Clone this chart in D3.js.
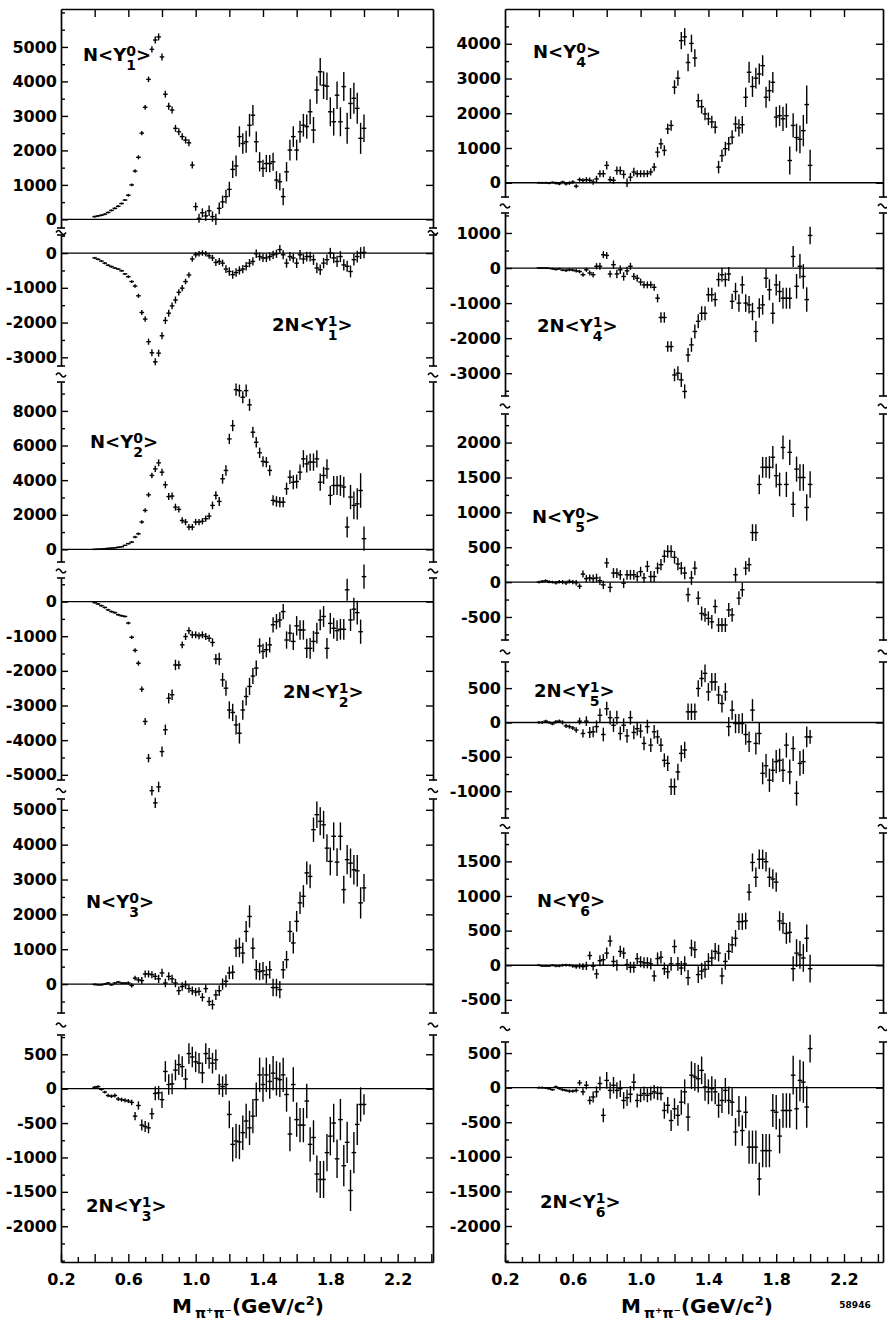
<!DOCTYPE html>
<html>
<head>
<meta charset="utf-8">
<script src="https://cdn.jsdelivr.net/npm/d3@7"></script>
<style>
  body { margin: 0; background: #fff; }
  svg text { font-family: "DejaVu Sans", "Liberation Sans", sans-serif; font-weight: bold; fill: #000; }
</style>
</head>
<body>
<div id="chart"></div>
<script>
// pi+ pi- mass bins (GeV/c^2)
const mass = [
  0.40, 0.42, 0.44, 0.46, 0.48, 0.50, 0.52, 0.54, 0.56, 0.58,
  0.60, 0.62, 0.64, 0.66, 0.68, 0.70, 0.72, 0.74, 0.76, 0.78,
  0.80, 0.82, 0.84, 0.86, 0.88, 0.90, 0.92, 0.94, 0.96, 0.98,
  1.00, 1.02, 1.04, 1.06, 1.08, 1.10, 1.12, 1.14, 1.16, 1.18,
  1.20, 1.22, 1.24, 1.26, 1.28, 1.30, 1.32, 1.34, 1.36, 1.38,
  1.40, 1.42, 1.44, 1.46, 1.48, 1.50, 1.52, 1.54, 1.56, 1.58,
  1.60, 1.62, 1.64, 1.66, 1.68, 1.70, 1.72, 1.74, 1.76, 1.78,
  1.80, 1.82, 1.84, 1.86, 1.88, 1.90, 1.92, 1.94, 1.96, 1.98,
  2.00
];

// N<Y1^0>
const y10 = [
  80, 100, 120, 150, 200, 260, 320, 380, 460, 560,
  700, 1000, 1400, 1800, 2500, 3250, 4060, 4930, 5200, 5290,
  4710, 3630, 3280, 3170, 2640, 2540, 2400, 2300, 2220, 1575,
  370, 30, 190, 100, 250, 80, 0, 320, 510, 660,
  870, 1450, 1550, 2400, 2200, 2250, 2730, 3020, 2250, 1670,
  1480, 1620, 1620, 1670, 1140, 1090, 660, 1380, 2010, 2400,
  2010, 2540, 2730, 2690, 3120, 2590, 3750, 4280, 3890, 3860,
  3120, 2830, 3600, 2830, 3850, 2640, 3360, 3510, 3220, 2350,
  2640
];
const y10Err = [
  30, 30, 30, 30, 30, 30, 30, 30, 30, 30,
  40, 40, 50, 60, 60, 70, 80, 90, 100, 100,
  100, 100, 100, 100, 100, 100, 100, 100, 100, 100,
  120, 130, 130, 150, 150, 150, 160, 170, 180, 200,
  220, 250, 300, 300, 300, 320, 330, 300, 300, 280,
  250, 250, 250, 260, 260, 250, 250, 280, 300, 300,
  300, 320, 330, 350, 360, 380, 400, 400, 400, 400,
  420, 400, 400, 420, 420, 450, 450, 450, 450, 450,
  400
];

// 2N<Y1^1>
const y11 = [
  -140, -180, -230, -290, -350, -390, -430, -460, -510, -600,
  -680, -820, -950, -1230, -1710, -1900, -2550, -2870, -3130, -2880,
  -2380, -1940, -1730, -1520, -1350, -1130, -1010, -820, -630, -170,
  -50, -20, 0, -20, -80, -140, -270, -240, -290, -460,
  -530, -620, -560, -500, -460, -380, -290, -240, -20, -100,
  -140, -140, -100, -50, -20, 100, -50, -290, -100, -140,
  -290, -50, -170, -100, -100, -190, -430, -480, -290, -190,
  0, -140, -240, -100, -340, -380, -530, -190, -100, 0,
  20
];
const y11Err = [
  30, 30, 30, 30, 30, 30, 30, 30, 30, 30,
  40, 40, 50, 60, 70, 80, 90, 100, 100, 100,
  100, 100, 100, 100, 100, 90, 90, 80, 80, 80,
  80, 80, 80, 80, 80, 90, 100, 100, 100, 110,
  120, 120, 120, 120, 120, 120, 120, 120, 120, 120,
  120, 120, 120, 120, 120, 130, 130, 130, 130, 130,
  140, 140, 140, 140, 140, 150, 150, 150, 150, 150,
  150, 150, 160, 160, 160, 160, 170, 170, 170, 170,
  170
];

// N<Y2^0>
const y20 = [
  0, 10, 20, 40, 60, 70, 90, 120, 150, 230,
  330, 420, 710, 900, 1580, 2250, 3150, 4270, 4650, 5000,
  4460, 3730, 3050, 3080, 2440, 2310, 1670, 1580, 1290, 1290,
  1580, 1580, 1620, 1770, 1920, 2540, 3120, 2770, 4080, 4560,
  6380, 7150, 9230, 9170, 8790, 9170, 8350, 6770, 6190, 5580,
  5080, 5040, 4560, 2830, 2770, 2730, 2730, 3500, 4170, 3880,
  3920, 4460, 5230, 4940, 5040, 5040, 5230, 3880, 4270, 4650,
  3120, 3690, 3690, 3690, 3600, 1290, 3020, 2540, 2630, 3400,
  620
];
const y20Err = [
  40, 40, 40, 40, 40, 40, 40, 40, 40, 40,
  50, 60, 70, 80, 100, 120, 140, 160, 180, 200,
  200, 200, 200, 200, 200, 180, 180, 180, 180, 180,
  180, 180, 180, 180, 200, 220, 240, 260, 280, 300,
  300, 320, 350, 350, 350, 350, 350, 320, 300, 300,
  300, 300, 300, 300, 300, 300, 300, 350, 400, 400,
  400, 450, 500, 500, 500, 500, 500, 500, 500, 550,
  550, 550, 550, 600, 600, 600, 700, 800, 900, 1000,
  700
];

// 2N<Y2^1>
const y21 = [
  -30, -70, -120, -170, -240, -290, -320, -380, -410, -430,
  -620, -1030, -1410, -1780, -2530, -3460, -4520, -5460, -5810, -5350,
  -4330, -3700, -2790, -2690, -1830, -1830, -1250, -1010, -840, -960,
  -960, -990, -960, -1010, -1060, -1180, -1660, -1660, -2260, -2500,
  -3130, -3200, -3560, -3800, -3130, -2740, -2450, -2150, -1920, -1280,
  -1440, -1390, -1250, -670, -580, -530, -290, -1110, -910, -1150,
  -700, -820, -820, -1350, -1350, -1150, -910, -530, -430, -1350,
  -630, -770, -840, -800, -800, 340, -530, -220, -320, -870,
  720
];
const y21Err = [
  30, 30, 30, 30, 30, 30, 30, 30, 30, 30,
  40, 50, 60, 70, 80, 100, 120, 140, 150, 150,
  150, 150, 150, 150, 150, 120, 100, 100, 100, 100,
  100, 100, 100, 100, 100, 120, 150, 180, 200, 220,
  250, 250, 280, 300, 280, 260, 250, 230, 220, 220,
  220, 220, 220, 220, 220, 220, 220, 250, 250, 250,
  280, 280, 280, 280, 300, 300, 300, 300, 300, 300,
  300, 300, 300, 300, 300, 320, 320, 330, 340, 350,
  350
];

// N<Y3^0>
const y30 = [
  -10, -20, -20, 0, 30, -20, 30, 60, 30, 30,
  30, -40, 170, 120, 100, 290, 290, 270, 220, 150,
  320, 30, 220, 150, 30, -190, -70, -20, -130, -190,
  -230, -210, -380, -130, -500, -590, -310, -190, 0, 80,
  320, 340, 1030, 1050, 890, 1510, 1940, 1030, 410, 360,
  380, 270, 410, -100, -100, -160, 410, 700, 1510, 1180,
  1800, 2330, 2520, 3190, 3090, 4430, 4860, 4670, 4570, 3900,
  3520, 4240, 3500, 4240, 2710, 3570, 3470, 3280, 3250, 2330,
  2760
];
const y30Err = [
  30, 30, 30, 30, 30, 30, 30, 30, 30, 30,
  50, 60, 70, 80, 100, 100, 100, 100, 100, 120,
  120, 120, 120, 120, 120, 120, 120, 120, 120, 120,
  120, 120, 120, 120, 130, 140, 150, 150, 160, 170,
  180, 200, 250, 280, 300, 300, 320, 300, 280, 250,
  250, 250, 250, 250, 250, 250, 250, 250, 300, 300,
  300, 320, 320, 330, 340, 350, 380, 400, 400, 400,
  400, 400, 400, 400, 400, 420, 420, 420, 450, 450,
  400
];

// 2N<Y3^1>
const y31 = [
  20, 30, -10, -50, -100, -110, -100, -150, -160, -170,
  -180, -200, -400, -245, -530, -550, -570, -365, -70, -60,
  -160, 250, 60, 70, 270, 350, 320, 140, 510, 460,
  390, 370, 230, 510, 440, 370, 420, 60, 30, 60,
  -375, -810, -760, -775, -640, -470, -570, -400, -160, 200,
  60, 200, 105, 225, 150, 130, 200, -85, -660, 60,
  -450, -530, -530, -180, -810, -710, -1240, -1320, -1320, -930,
  -690, -500, -1020, -450, -1120, -780, -1480, -930, -520, -230,
  -230
];
const y31Err = [
  20, 20, 20, 20, 25, 25, 30, 30, 30, 30,
  30, 40, 60, 60, 80, 80, 80, 80, 100, 100,
  120, 150, 150, 150, 150, 150, 150, 150, 150, 150,
  150, 150, 150, 150, 150, 150, 150, 150, 150, 150,
  200, 250, 250, 250, 250, 250, 250, 250, 250, 250,
  250, 250, 250, 250, 250, 250, 250, 250, 250, 250,
  250, 250, 250, 250, 250, 250, 270, 270, 270, 270,
  280, 280, 280, 300, 300, 300, 300, 300, 300, 250,
  150
];

// N<Y4^0>
const y40 = [
  0, 0, 0, -10, 10, -10, -30, 20, -30, -10,
  20, -100, 90, 70, 90, 70, 20, 110, 260, 260,
  500, 90, 70, 350, 350, 240, 0, 160, 310, 260,
  260, 260, 260, 310, 450, 880, 1120, 930, 1550, 1650,
  2750, 3010, 4090, 4200, 3460, 4010, 3590, 2360, 2190, 1980,
  1840, 1750, 1600, 450, 780, 980, 1120, 1310, 1690, 1580,
  1670, 2460, 3180, 2770, 3010, 3130, 3370, 2460, 2650, 2890,
  1890, 1930, 1840, 1930, 640, 1650, 1300, 1250, 1500, 2250,
  500
];
const y40Err = [
  30, 30, 30, 30, 30, 40, 40, 40, 50, 50,
  50, 60, 60, 60, 70, 80, 80, 90, 100, 100,
  120, 100, 100, 120, 120, 120, 120, 120, 120, 100,
  100, 100, 100, 100, 120, 150, 150, 150, 150, 150,
  200, 220, 250, 250, 250, 250, 250, 200, 200, 180,
  180, 180, 180, 180, 180, 200, 200, 200, 220, 250,
  250, 280, 300, 300, 300, 300, 300, 300, 300, 300,
  300, 300, 350, 350, 400, 350, 400, 400, 450, 550,
  450
];

// 2N<Y4^1>
const y41 = [
  0, 0, 0, -10, -20, -40, -20, -60, -70, -50,
  -60, -80, -100, -190, -50, -140, -190, 50, 50, 380,
  360, -170, 95, -170, -50, -240, -80, 50, -240, -290,
  -400, -480, -480, -480, -550, -860, -1410, -1410, -2240, -2240,
  -3050, -3000, -3190, -3520, -2480, -2190, -1810, -1520, -1290, -1290,
  -760, -760, -900, -330, -190, -330, -170, -950, -670, -1000,
  -480, -1000, -1050, -1240, -1810, -1140, -1050, -290, -620, -1290,
  -480, -670, -860, -860, -860, 330, -520, 50, -240, -900,
  930
];
const y41Err = [
  20, 20, 20, 20, 30, 30, 30, 30, 40, 40,
  40, 50, 50, 60, 60, 70, 80, 90, 100, 100,
  100, 100, 120, 120, 120, 120, 120, 100, 100, 100,
  100, 100, 100, 100, 100, 120, 150, 150, 150, 150,
  180, 200, 200, 200, 200, 200, 200, 200, 200, 200,
  200, 200, 200, 200, 200, 200, 200, 220, 250, 250,
  250, 250, 250, 250, 300, 280, 280, 280, 300, 300,
  300, 300, 300, 300, 300, 300, 350, 350, 350, 350,
  250
];

// N<Y5^0>
const y50 = [
  0, 10, 20, 5, 0, -10, 5, 0, -10, 10,
  0, -10, -60, 115, 50, 60, 50, 60, 20, -40,
  275, -75, 130, 130, 105, -15, 105, 105, 105, 80,
  150, 60, 225, 80, 80, 200, 250, 370, 440, 440,
  355, 260, 200, 130, -180, 60, 200, -230, -450, -470,
  -520, -570, -350, -615, -615, -615, -400, -470, 105, -230,
  -110, 200, 250, 710, 710, 1400, 1645, 1645, 1645, 1790,
  1525, 1400, 1930, 1400, 1860, 1115, 1620, 1500, 1500, 1070,
  1400
];
const y50Err = [
  20, 20, 20, 20, 20, 25, 25, 30, 30, 30,
  30, 40, 40, 50, 50, 50, 60, 60, 60, 60,
  70, 70, 70, 70, 70, 70, 70, 70, 70, 70,
  70, 70, 80, 80, 80, 80, 80, 90, 90, 90,
  90, 90, 90, 90, 100, 100, 100, 100, 100, 100,
  100, 100, 100, 100, 100, 100, 100, 100, 100, 100,
  100, 100, 100, 120, 120, 140, 150, 150, 160, 160,
  170, 170, 170, 180, 180, 180, 180, 190, 190, 190,
  190
];

// 2N<Y5^1>
const y51 = [
  0, 0, 20, 0, -20, 10, 20, 0, -50, -60,
  -80, -110, 20, -160, 20, -145, -135, -60, 105, -175,
  200, 70, -40, 70, -160, -40, -195, 70, -145, -90,
  -125, -305, -60, -330, -135, -210, -330, -550, -595, -935,
  -935, -720, -450, -400, 155, 155, 155, 495, 640, 715,
  445, 590, 590, 400, 275, 445, -60, 180, -15, -15,
  -15, -175, -280, 180, -305, -160, -740, -630, -840, -695,
  -570, -550, -695, -330, -720, -380, -1030, -595, -570, -210,
  -210
];
const y51Err = [
  20, 20, 20, 20, 20, 25, 25, 30, 30, 30,
  30, 40, 50, 60, 70, 80, 80, 90, 100, 100,
  100, 100, 100, 100, 100, 100, 100, 100, 100, 100,
  100, 100, 100, 100, 100, 100, 100, 100, 110, 120,
  120, 120, 120, 120, 120, 120, 120, 120, 120, 130,
  130, 130, 130, 130, 130, 130, 140, 140, 140, 140,
  150, 150, 150, 160, 160, 160, 160, 170, 170, 170,
  170, 170, 170, 180, 180, 180, 180, 180, 180, 150,
  100
];

// N<Y6^0>
const y60 = [
  0, -10, -10, -10, 0, -10, -10, 0, 0, 0,
  -10, -20, -10, -20, -10, 140, -15, -125, 65, 80,
  175, 350, 55, 0, 200, 175, 10, -30, -30, 95,
  50, 35, 35, 20, -155, 95, 115, -50, -95, 20,
  270, 20, -40, 20, -180, 250, 225, -135, -85, -60,
  55, 105, 200, 175, -155, 55, 200, 295, 390, 630,
  630, 640, 1055, 1485, 1270, 1530, 1530, 1495, 1270, 1245,
  1200, 640, 605, 460, 475, -50, 175, 150, 105, 390,
  -50
];
const y60Err = [
  15, 15, 15, 15, 15, 20, 20, 20, 20, 20,
  25, 30, 40, 50, 60, 60, 60, 70, 80, 80,
  80, 80, 80, 80, 80, 80, 80, 80, 80, 80,
  80, 80, 80, 80, 80, 90, 90, 90, 100, 100,
  100, 100, 100, 110, 110, 120, 120, 120, 120, 120,
  120, 120, 120, 120, 120, 120, 120, 120, 120, 120,
  120, 120, 120, 130, 140, 140, 140, 140, 140, 140,
  140, 140, 150, 150, 150, 180, 200, 200, 200, 200,
  200
];

// 2N<Y6^1>
const y61 = [
  0, 0, -5, -15, -30, 10, -10, -30, -40, -50,
  -50, -40, 70, -60, 35, -185, -135, -60, 60, -400,
  105, -40, 35, -40, -15, -185, -145, -95, 80, -185,
  -110, -85, -110, -85, -60, -80, -85, -330, -255, -475,
  -305, -400, -210, -60, -425, 180, 155, 130, 250, 10,
  -60, -15, -60, -255, -185, -40, -185, -210, -640, -340,
  -620, -355, -860, -860, -860, -1320, -910, -910, -910, -330,
  -355, -700, -330, -330, -330, 180, -305, 105, 80, -280,
  565
];
const y61Err = [
  15, 15, 15, 15, 15, 20, 20, 20, 20, 25,
  25, 30, 40, 50, 60, 60, 80, 80, 100, 100,
  120, 120, 120, 120, 120, 120, 120, 120, 120, 100,
  100, 100, 100, 100, 100, 100, 100, 120, 120, 150,
  150, 150, 180, 180, 200, 200, 200, 200, 200, 200,
  180, 180, 180, 180, 180, 180, 200, 200, 200, 220,
  220, 230, 240, 240, 240, 240, 240, 240, 240, 240,
  250, 250, 250, 250, 250, 280, 300, 300, 300, 300,
  200
];

// tick labels
const ticksY10 = [0, 1000, 2000, 3000, 4000, 5000];
const ticksY11 = [0, -1000, -2000, -3000];
const ticksY20 = [0, 2000, 4000, 6000, 8000];
const ticksY21 = [0, -1000, -2000, -3000, -4000, -5000];
const ticksY30 = [0, 1000, 2000, 3000, 4000, 5000];
const ticksY31 = [500, 0, -500, -1000, -1500, -2000];
const ticksY40 = [0, 1000, 2000, 3000, 4000];
const ticksY41 = [1000, 0, -1000, -2000, -3000];
const ticksY50 = [-500, 0, 500, 1000, 1500, 2000];
const ticksY51 = [500, 0, -500, -1000];
const ticksY60 = [-500, 0, 500, 1000, 1500];
const ticksY61 = [500, 0, -500, -1000, -1500, -2000];
const xTickLabels = [0.2, 0.6, 1.0, 1.4, 1.8, 2.2];
const xTicks = [0.2, 0.4, 0.6, 0.8, 1.0, 1.2, 1.4, 1.6, 1.8, 2.0, 2.2, 2.4];
const xMinorTicks = [0.3, 0.5, 0.7, 0.9, 1.1, 1.3, 1.5, 1.7, 1.9, 2.1, 2.3];
const xTopTicks = [0.4, 0.6, 0.8, 1.0, 1.2, 1.4, 1.6, 1.8, 2.0, 2.2];

const width = 887;
const height = 1328;
const frameTop = 9;
const frameBottom = 1262;
const fontFamily = '"DejaVu Sans", "Liberation Sans", sans-serif';

const svg = d3.select('#chart').append('svg')
    .attr('width', width)
    .attr('height', height)
    .style('background', '#fff');

const columns = [
    { x: d3.scaleLinear().domain([0.2, 2.41]).range([61, 433]), titleX: 248 },
    { x: d3.scaleLinear().domain([0.2, 2.43]).range([505, 883]), titleX: 697 }
];

const panels = [
    { col: 0, l: 1, m: 0, values: y10, errors: y10Err, domain: [-250, 6100], range: [228, frameTop], ticks: ticksY10, step: 500, label: [83, 61] },
    { col: 0, l: 1, m: 1, values: y11, errors: y11Err, domain: [-3250, 520], range: [366, 235], ticks: ticksY11, step: 500, label: [272, 331] },
    { col: 0, l: 2, m: 0, values: y20, errors: y20Err, domain: [-730, 9670], range: [562, 382], ticks: ticksY20, step: 1000, label: [90, 448] },
    { col: 0, l: 2, m: 1, values: y21, errors: y21Err, domain: [-5150, 680], range: [780, 578], ticks: ticksY21, step: 500, label: [283, 698] },
    { col: 0, l: 3, m: 0, values: y30, errors: y30Err, domain: [-830, 5310], range: [1013, 799], ticks: ticksY30, step: 500, label: [86, 908] },
    { col: 0, l: 3, m: 1, values: y31, errors: y31Err, domain: [-2520, 780], range: [frameBottom, 1035], ticks: ticksY31, step: 250, label: [86, 1212] },
    { col: 1, l: 4, m: 0, values: y40, errors: y40Err, domain: [-410, 5000], range: [197, frameTop], ticks: ticksY40, step: 500, label: [533, 58] },
    { col: 1, l: 4, m: 1, values: y41, errors: y41Err, domain: [-3650, 1570], range: [396, 213], ticks: ticksY41, step: 500, label: [537, 332] },
    { col: 1, l: 5, m: 0, values: y50, errors: y50Err, domain: [-830, 2410], range: [640, 414], ticks: ticksY50, step: 250, label: [532, 523] },
    { col: 1, l: 5, m: 1, values: y51, errors: y51Err, domain: [-1390, 880], range: [818, 662], ticks: ticksY51, step: 250, label: [534, 697] },
    { col: 1, l: 6, m: 0, values: y60, errors: y60Err, domain: [-690, 1910], range: [1013, 833], ticks: ticksY60, step: 250, label: [537, 907] },
    { col: 1, l: 6, m: 1, values: y61, errors: y61Err, domain: [-2520, 660], range: [frameBottom, 1042], ticks: ticksY61, step: 250, label: [540, 1208] }
];

/**
 * Black strokes, bold labels for a d3 axis group
 */
const styleAxis = (sel, fontSize) => {
    sel.attr('font-family', null).attr('font-size', null);
    sel.select('.domain').attr('stroke', '#000').attr('stroke-width', 1.7);
    sel.selectAll('.tick line').attr('stroke', '#000').attr('stroke-width', 1.4);
    sel.selectAll('.tick text')
        .style('font-family', fontFamily)
        .style('font-weight', 'bold')
        .style('font-size', fontSize + 'px')
        .attr('fill', '#000');
}

// small break sign: bar across the axis end plus a tilde in the gap
const drawBreak = (g, x, yEnd, yTilde) => {
    g.append('line')
        .attr('x1', x - 4).attr('x2', x + 4)
        .attr('y1', yEnd).attr('y2', yEnd)
        .attr('stroke', '#000').attr('stroke-width', 1.6);
    if (yTilde != null) {
        g.append('path')
            .attr('d', `M${x - 5},${yTilde + 1} q2.5,-4 5,0 t5,0`)
            .attr('fill', 'none').attr('stroke', '#000').attr('stroke-width', 1.5);
    }
}

const drawPanel = (p) => {
    const x = columns[p.col].x;
    const [x0, x1] = x.range();
    const y = d3.scaleLinear().domain(p.domain).range(p.range);
    const g = svg.append('g');

    const minor = d3.range(Math.ceil(p.domain[0] / p.step) * p.step, p.domain[1], p.step)
        .filter(v => !p.ticks.includes(v));

    // left axis with labels
    g.append('g')
        .attr('transform', `translate(${x0},0)`)
        .call(d3.axisLeft(y).tickValues(p.ticks).tickSizeInner(-7).tickSizeOuter(0)
            .tickPadding(4).tickFormat(d => String(d)))
        .call(sel => styleAxis(sel, 16));
    g.append('g')
        .attr('transform', `translate(${x0},0)`)
        .call(d3.axisLeft(y).tickValues(minor).tickSizeInner(-4).tickSizeOuter(0).tickFormat(''))
        .call(sel => styleAxis(sel, 16))
        .call(sel => sel.select('.domain').remove());

    // right border
    g.append('g')
        .attr('transform', `translate(${x1},0)`)
        .call(d3.axisRight(y).tickValues(p.ticks).tickSizeInner(-7).tickSizeOuter(0).tickFormat(''))
        .call(sel => styleAxis(sel, 16));

    // zero line
    g.append('line')
        .attr('x1', x0).attr('x2', x1)
        .attr('y1', y(0)).attr('y2', y(0))
        .attr('stroke', '#000').attr('stroke-width', 1.3);

    // breaks between stacked panels
    const sameCol = panels.filter(q => q.col === p.col);
    const pos = sameCol.indexOf(p);
    if (pos > 0) {
        drawBreak(g, x0, p.range[1], null);
        drawBreak(g, x1, p.range[1], null);
    }
    if (pos < sameCol.length - 1) {
        const next = sameCol[pos + 1];
        const mid = (p.range[0] + next.range[1]) / 2;
        drawBreak(g, x0, p.range[0], mid);
        drawBreak(g, x1, p.range[0], mid);
    }

    // data points with error bars
    const points = mass.map((m, i) => ({ m, v: p.values[i], e: p.errors[i] }));
    const pts = g.append('g')
        .attr('stroke', '#000')
        .attr('stroke-width', 1.4)
        .selectAll('g')
        .data(points)
        .join('g');
    pts.append('line')
        .attr('x1', d => x(d.m)).attr('x2', d => x(d.m))
        .attr('y1', d => y(d.v - d.e)).attr('y2', d => y(d.v + d.e));
    pts.append('line')
        .attr('x1', d => x(d.m) - 2.3).attr('x2', d => x(d.m) + 2.3)
        .attr('y1', d => y(d.v)).attr('y2', d => y(d.v));

    // moment label, e.g. N<Y_1^0>
    const [lx, ly] = p.label;
    const t = g.append('text')
        .attr('x', lx).attr('y', ly)
        .style('font-size', '18px');
    t.append('tspan').text((p.m === 0 ? 'N' : '2N') + '<Y');
    t.append('tspan').attr('dy', -5).style('font-size', '14px').text(p.m);
    t.append('tspan').attr('dx', -9.7).attr('dy', 14).style('font-size', '14px').text(p.l);
    t.append('tspan').attr('dy', -9).style('font-size', '18px').text('>');
}

panels.forEach(drawPanel);

// frame top and mass axis for each column
columns.forEach(col => {
    const x = col.x;
    svg.append('g')
        .attr('transform', `translate(0,${frameTop})`)
        .call(d3.axisTop(x).tickValues(xTopTicks).tickSizeInner(-8).tickSizeOuter(0).tickFormat(''))
        .call(sel => styleAxis(sel, 16));

    svg.append('g')
        .attr('transform', `translate(0,${frameBottom})`)
        .call(d3.axisBottom(x).tickValues(xTicks).tickSizeInner(-8).tickSizeOuter(0).tickPadding(12)
            .tickFormat(d => xTickLabels.includes(d) ? d.toFixed(1) : ''))
        .call(sel => styleAxis(sel, 16));
    svg.append('g')
        .attr('transform', `translate(0,${frameBottom})`)
        .call(d3.axisBottom(x).tickValues(xMinorTicks).tickSizeInner(-5).tickSizeOuter(0).tickFormat(''))
        .call(sel => styleAxis(sel, 16))
        .call(sel => sel.select('.domain').remove());

    const title = svg.append('text')
        .attr('x', col.titleX).attr('y', 1313)
        .attr('text-anchor', 'middle')
        .style('font-size', '20px');
    title.append('tspan').text('M');
    title.append('tspan').attr('dx', 3).attr('dy', 5).style('font-size', '14px').text('π⁺π⁻');
    title.append('tspan').attr('dy', -5).style('font-size', '20px').text('(GeV/c');
    title.append('tspan').attr('dy', -8).style('font-size', '13px').text('2');
    title.append('tspan').attr('dy', 8).style('font-size', '20px').text(')');
});

svg.append('text')
    .attr('x', 855).attr('y', 1308)
    .attr('text-anchor', 'middle')
    .style('font-size', '9px')
    .text('58946');
</script>
</body>
</html>
